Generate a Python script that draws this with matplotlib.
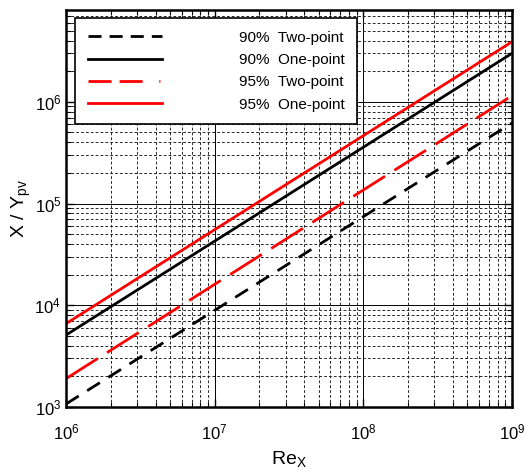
import matplotlib
matplotlib.use("Agg")
import matplotlib.pyplot as plt
from matplotlib.lines import Line2D

plt.rcParams["font.family"] = ["Liberation Sans", "DejaVu Sans"]
plt.rcParams["mathtext.fontset"] = "custom"
plt.rcParams["mathtext.rm"] = "Liberation Sans"
plt.rcParams["mathtext.it"] = "Liberation Sans"
plt.rcParams["lines.scale_dashes"] = False

# Reynolds number range (end points of each straight log-log line)
re_x = [1e6, 1e9]

# X / Y_pv values read at Re = 1e6 and Re = 1e9
two_point_90 = [1.07e3, 6.2e5]
one_point_90 = [5.1e3, 3.0e6]
two_point_95 = [1.9e3, 1.15e6]
one_point_95 = [6.6e3, 3.9e6]

labels = ["90%  Two-point", "90%  One-point", "95%  Two-point", "95%  One-point"]

fig = plt.figure(figsize=(5.26, 4.71), dpi=100)
ax = fig.add_axes([0.1255, 0.1359, 0.8479, 0.8429])

lw = 2.0
ax.plot(re_x, two_point_90, color="k", lw=lw, dashes=(10.8, 7.2))
ax.plot(re_x, one_point_90, color="k", lw=lw)
ax.plot(re_x, two_point_95, color="r", lw=lw, dashes=(27, 8))
ax.plot(re_x, one_point_95, color="r", lw=lw)

ax.set_xscale("log")
ax.set_yscale("log")
ax.set_xlim(1e6, 1e9)
ax.set_ylim(1e3, 8e6)

ax.grid(True, which="major", color="k", lw=0.7, ls="-")
ax.grid(True, which="minor", color="0.15", lw=0.7, ls=(0, (2, 1.5)))
ax.set_axisbelow(True)

ax.tick_params(which="both", direction="in", top=True, right=True, labelsize=12)
ax.tick_params(which="major", length=6, width=1)
ax.tick_params(which="minor", length=3.5, width=0.8)
ax.tick_params(axis="x", pad=11)
for s in ax.spines.values():
    s.set_linewidth(1.8)

ax.set_xlabel(r"$\mathregular{Re_X}$", fontsize=14, labelpad=5)
ax.set_ylabel(r"$\mathregular{X\ /\ Y_{pv}}$", fontsize=14, labelpad=1)

handles = [
    Line2D([], [], color="k", lw=lw, dashes=(9.4, 5.8)),
    Line2D([], [], color="k", lw=lw),
    Line2D([], [], color="r", lw=lw, dashes=(16.6, 5.8, 16.6, 12, 0.8, 20)),
    Line2D([], [], color="r", lw=lw),
]
leg = ax.legend(handles, labels, loc="upper left", bbox_to_anchor=(0.02, 0.98),
                borderaxespad=0, fontsize=11, handlelength=4.9, handletextpad=5.0,
                labelspacing=0.55, borderpad=0.83, fancybox=False, framealpha=1)
leg.get_frame().set_edgecolor("k")
leg.get_frame().set_linewidth(1.2)

fig.savefig("out.png", dpi=100)
